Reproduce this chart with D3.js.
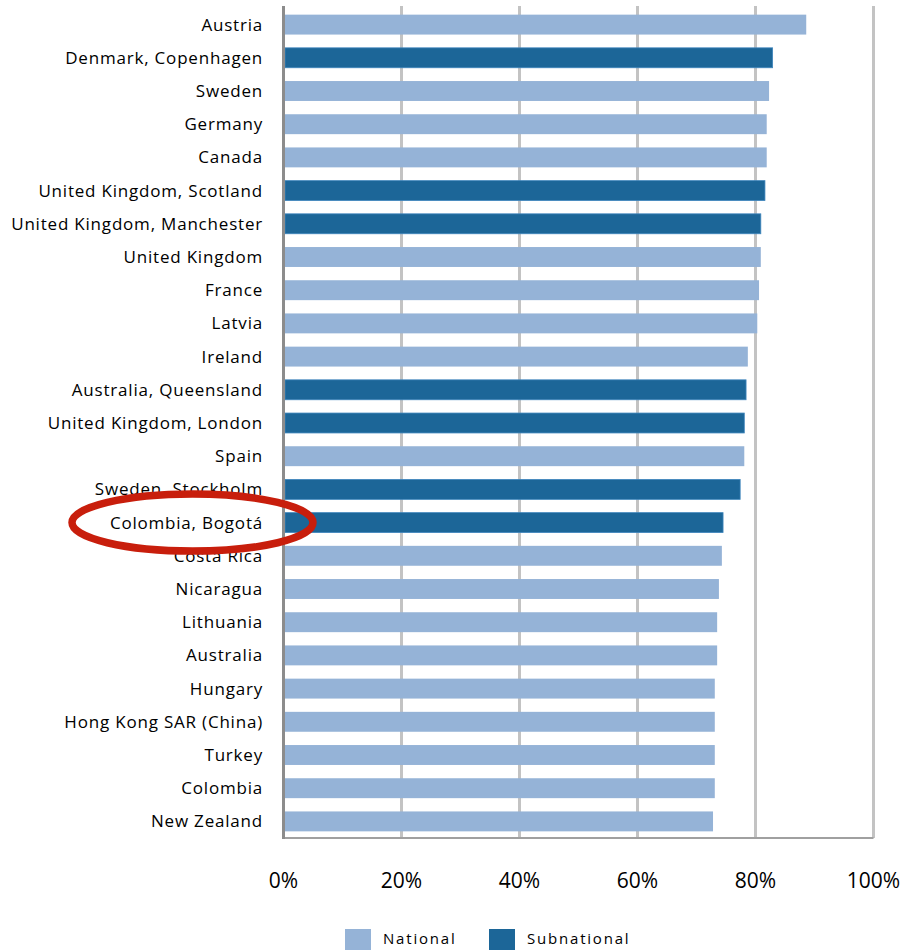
<!DOCTYPE html>
<html>
<head>
<meta charset="utf-8">
<script src="https://cdn.jsdelivr.net/npm/d3@7"></script>
<style>
  body { margin: 0; background: #fff; }
  svg text { font-family: "Open Sans", "Liberation Sans", sans-serif; fill: #000; }
</style>
</head>
<body>
<div id="chart"></div>
<script>
// chart data, top row first
var categories = ['Austria', 'Denmark, Copenhagen', 'Sweden', 'Germany', 'Canada',
  'United Kingdom, Scotland', 'United Kingdom, Manchester', 'United Kingdom', 'France',
  'Latvia', 'Ireland', 'Australia, Queensland', 'United Kingdom, London', 'Spain',
  'Sweden, Stockholm', 'Colombia, Bogotá', 'Costa Rica', 'Nicaragua', 'Lithuania',
  'Australia', 'Hungary', 'Hong Kong SAR (China)', 'Turkey', 'Colombia', 'New Zealand'];
var values = [88.6, 82.9, 82.3, 81.9, 81.9, 81.6, 80.9, 80.9, 80.6, 80.3, 78.7, 78.4,
  78.1, 78.1, 77.4, 74.5, 74.3, 73.8, 73.5, 73.5, 73.1, 73.1, 73.1, 73.1, 72.8];
var levels = ['N', 'S', 'N', 'N', 'N', 'S', 'S', 'N', 'N', 'N', 'N', 'S', 'S', 'N',
  'S', 'S', 'N', 'N', 'N', 'N', 'N', 'N', 'N', 'N', 'N'];
var x_ticks = [0, 20, 40, 60, 80, 100];
var legend_labels = ['National', 'Subnational'];
var highlighted = 'Colombia, Bogotá';

// layout (careful: "top" is taken by window.top)
var svg_width = 901, svg_height = 950;
var plot_left = 283.5, plot_right = 873.5, plot_top = 8, plot_bottom = 838;

var national_color = '#95b3d7';
var subnational_color = '#1c6698';

var svg = d3.select('#chart').append('svg')
    .attr('width', svg_width)
    .attr('height', svg_height);

var x_scale = d3.scaleLinear().domain([0, 100]).range([plot_left, plot_right]);
var y_scale = d3.scaleBand().domain(categories).range([plot_top, plot_bottom])
    .paddingInner(0.4).paddingOuter(0.2);

// gridlines
svg.append('g').selectAll('line')
    .data(x_ticks.slice(1))
    .enter().append('line')
    .attr('x1', function(d) { return x_scale(d); })
    .attr('x2', function(d) { return x_scale(d); })
    .attr('y1', 6).attr('y2', plot_bottom)
    .attr('stroke', '#c3c3c3')
    .attr('stroke-width', 3);

// bars
svg.append('g').selectAll('rect')
    .data(categories)
    .enter().append('rect')
    .attr('x', x_scale(0) + 1.5)
    .attr('y', function(d) { return y_scale(d); })
    .attr('height', y_scale.bandwidth())
    .attr('width', function(d, i) { return x_scale(values[i]) - x_scale(0) - 1.5; })
    .attr('fill', function(d, i) { return levels[i] == 'S' ? subnational_color : national_color; })
    .attr('stroke', function(d, i) { return levels[i] == 'S' ? '#3f86bd' : 'none'; })
    .attr('stroke-width', 0.8);

// axis lines
svg.append('line')
    .attr('x1', x_scale(0)).attr('x2', x_scale(100))
    .attr('y1', plot_bottom).attr('y2', plot_bottom)
    .attr('stroke', '#a0a0a0').attr('stroke-width', 2);
svg.append('line')
    .attr('x1', x_scale(0)).attr('x2', x_scale(0))
    .attr('y1', 6).attr('y2', plot_bottom + 1)
    .attr('stroke', '#8c8c8c').attr('stroke-width', 3);

// category labels
svg.append('g').selectAll('text')
    .data(categories)
    .enter().append('text')
    .attr('x', 263)
    .attr('y', function(d) { return y_scale(d) + y_scale.bandwidth() / 2; })
    .attr('dy', '0.35em')
    .attr('text-anchor', 'end')
    .attr('font-size', '17px')
    .style('letter-spacing', '0.8px')
    .text(function(d) { return d; });

// x tick labels
svg.append('g').selectAll('text')
    .data(x_ticks)
    .enter().append('text')
    .attr('x', function(d) { return x_scale(d); })
    .attr('y', 881)
    .attr('dy', '0.35em')
    .attr('text-anchor', 'middle')
    .attr('font-size', '21px')
    .text(function(d) { return d + '%'; });

// legend (cut by the bottom edge, as in the original)
var legend = svg.append('g').selectAll('g')
    .data(legend_labels)
    .enter().append('g')
    .attr('transform', function(d, i) { return 'translate(' + (345 + i * 144) + ',929)'; });
legend.append('rect')
    .attr('width', 26).attr('height', 21)
    .attr('fill', function(d, i) { return i == 0 ? national_color : subnational_color; });
legend.append('text')
    .attr('x', 38).attr('y', 10)
    .attr('dy', '0.35em')
    .attr('font-size', '15px')
    .style('letter-spacing', '1.8px')
    .text(function(d) { return d; });

// red ring around Bogotá
svg.append('ellipse')
    .attr('cx', 192.5)
    .attr('cy', y_scale(highlighted) + y_scale.bandwidth() / 2)
    .attr('rx', 120.5)
    .attr('ry', 28.5)
    .attr('fill', 'none')
    .attr('stroke', '#c81e0c')
    .attr('stroke-width', 7.5);
</script>
</body>
</html>
